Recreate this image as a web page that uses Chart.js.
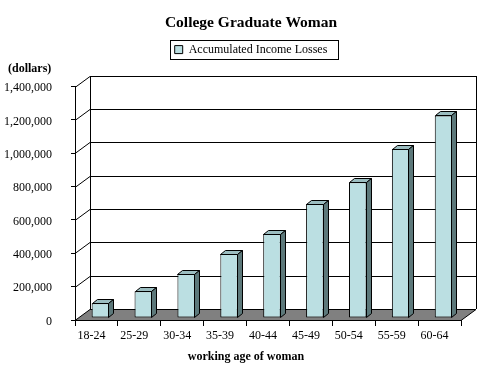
<!DOCTYPE html>
<html>
<head>
<meta charset="utf-8">
<title>College Graduate Woman</title>
<script src="https://cdn.jsdelivr.net/npm/chart.js@4.4.1/dist/chart.umd.min.js"></script>
<style>
	html, body { margin: 0; padding: 0; background: #ffffff; }
	#wrap { width: 484px; height: 371px; }
</style>
</head>
<body>
<div id="wrap"><canvas id="lossChart" width="484" height="371"></canvas></div>
<script>
const ageGroups = ["18-24", "25-29", "30-34", "35-39", "40-44", "45-49", "50-54", "55-59", "60-64"];
const incomeLosses = [88000, 160000, 265000, 385000, 505000, 685000, 815000, 1015000, 1215000];
const yTicks = [0, 200000, 400000, 600000, 800000, 1000000, 1200000, 1400000];
const seriesLabel = "Accumulated Income Losses";
const chartTitle = "College Graduate Woman";
const yUnitLabel = "(dollars)";
const xAxisLabel = "working age of woman";

const fontFamily = "'Liberation Serif', 'Times New Roman', serif";
const frontColor = "#BBDFE2";
const topColor = "#9BBDC0";
const sideColor = "#5C787A";
const floorColor = "#808080";

// 3D offsets of the back wall and of each column
const wallDepth = { x: 15, y: -11 };
const barShift = { x: 4, y: -2 };
const barDepth = { x: 5, y: -4 };
// title, legend and axis caption sit a little right of the canvas centre
const headerShift = 9;
const captionShift = 4;

/**
 * Draw floor, side wall and back wall with their grid lines
 */
const wallsPlugin = {
	id: "walls",
	beforeLayout(chart) {
		// keep room under the legend for the "(dollars)" label
		const legend = chart.legend;
		if (legend && !legend.heightPatched) {
			const fit = legend.fit;
			legend.fit = function () {
				fit.call(this);
				this.height = 46;
			};
			legend.heightPatched = true;
		}
	},
	afterLayout(chart) {
		chart.boxes.forEach((box) => {
			if (box === chart.titleBlock || box === chart.legend) {
				box.left += headerShift;
				box.right += headerShift;
			} else if (box.fullSize && box.position === "bottom") {
				// the subtitle used as caption of the category axis
				box.left += captionShift;
				box.right += captionShift;
			}
		});
	},
	beforeDatasetsDraw(chart) {
		const { ctx, chartArea: a, scales } = chart;
		const dx = wallDepth.x;
		const dy = wallDepth.y;
		ctx.save();
		ctx.lineWidth = 1;
		ctx.strokeStyle = "#000";

		// floor
		ctx.fillStyle = floorColor;
		ctx.beginPath();
		ctx.moveTo(a.left, a.bottom + 0.5);
		ctx.lineTo(a.right, a.bottom + 0.5);
		ctx.lineTo(a.right + dx, a.bottom + dy + 0.5);
		ctx.lineTo(a.left + dx, a.bottom + dy + 0.5);
		ctx.closePath();
		ctx.fill();
		ctx.stroke();

		// grid lines on the side and back walls
		scales.y.ticks.forEach((t) => {
			if (t.value === 0) return;
			const py = Math.round(scales.y.getPixelForValue(t.value)) + 0.5;
			ctx.beginPath();
			ctx.moveTo(a.left, py);
			ctx.lineTo(a.left + dx, py + dy);
			ctx.lineTo(a.right + dx, py + dy);
			ctx.stroke();
		});

		// back wall edges
		const top = Math.round(a.top) + dy;
		const bottom = Math.round(a.bottom) + dy;
		ctx.beginPath();
		ctx.moveTo(a.left + dx + 0.5, top);
		ctx.lineTo(a.left + dx + 0.5, bottom);
		ctx.moveTo(a.right + dx + 0.5, top);
		ctx.lineTo(a.right + dx + 0.5, bottom);
		ctx.stroke();
		ctx.restore();
	},
	beforeDatasetDraw(chart) {
		chart.ctx.save();
		chart.ctx.translate(barShift.x, barShift.y);
	},
	afterDatasetDraw(chart) {
		chart.ctx.restore();
	},
	afterDatasetsDraw(chart) {
		const ctx = chart.ctx;
		const meta = chart.getDatasetMeta(0);
		ctx.save();
		ctx.translate(barShift.x, barShift.y);
		ctx.lineWidth = 1;
		ctx.strokeStyle = "#000";
		meta.data.forEach((bar) => {
			const { x, y, base, width } = bar.getProps(["x", "y", "base", "width"], true);
			const l = Math.round(x - width / 2) + 0.5;
			const r = Math.round(x + width / 2) - 0.5;
			const t = Math.round(y) + 0.5;
			const b = Math.round(base) - 0.5;

			// top face
			ctx.fillStyle = topColor;
			ctx.beginPath();
			ctx.moveTo(l, t);
			ctx.lineTo(l + barDepth.x, t + barDepth.y);
			ctx.lineTo(r + barDepth.x, t + barDepth.y);
			ctx.lineTo(r, t);
			ctx.closePath();
			ctx.fill();
			ctx.stroke();

			// side face
			ctx.fillStyle = sideColor;
			ctx.beginPath();
			ctx.moveTo(r, t);
			ctx.lineTo(r + barDepth.x, t + barDepth.y);
			ctx.lineTo(r + barDepth.x, b + barDepth.y);
			ctx.lineTo(r, b);
			ctx.closePath();
			ctx.fill();
			ctx.stroke();
		});
		ctx.restore();
	},
	afterDraw(chart) {
		const ctx = chart.ctx;
		ctx.save();

		// frame round the legend
		const hb = chart.legend.legendHitBoxes[0];
		if (hb) {
			ctx.lineWidth = 1;
			ctx.strokeStyle = "#000";
			ctx.strokeRect(
				Math.round(hb.left - 5) + 0.5,
				Math.round(hb.top - 4) + 0.5,
				Math.round(hb.width + 15),
				Math.round(hb.height + 7)
			);
		}

		// unit label above the value axis
		ctx.fillStyle = "#000";
		ctx.font = "bold 12px " + fontFamily;
		ctx.textAlign = "left";
		ctx.textBaseline = "middle";
		ctx.fillText(yUnitLabel, 8, 69);
		ctx.restore();
	},
};

function drawLossChart() {
	const canvas = document.getElementById("lossChart");
	const config = {
		type: "bar",
		data: {
			labels: ageGroups,
			datasets: [
				{
					label: seriesLabel,
					data: incomeLosses,
					backgroundColor: frontColor,
					borderColor: "#000",
					borderWidth: 1,
					borderSkipped: false,
					categoryPercentage: 1,
					barPercentage: 0.41,
				},
			],
		},
		options: {
			responsive: false,
			animation: false,
			devicePixelRatio: 1,
			layout: {
				padding: { top: 0, left: 0, right: 0, bottom: 0 },
			},
			plugins: {
				title: {
					display: true,
					text: chartTitle,
					color: "#000",
					font: { family: fontFamily, size: 15.5, weight: "bold" },
					padding: { top: 14, bottom: 8 },
				},
				subtitle: {
					display: true,
					position: "bottom",
					text: xAxisLabel,
					color: "#000",
					font: { family: fontFamily, size: 12, weight: "bold" },
					padding: { top: 4, bottom: 7 },
				},
				legend: {
					display: true,
					position: "top",
					labels: {
						color: "#000",
						boxWidth: 8,
						boxHeight: 8,
						padding: 3,
						font: { family: fontFamily, size: 12 },
					},
				},
				tooltip: { enabled: false },
			},
			scales: {
				x: {
					grid: {
						display: true,
						drawOnChartArea: false,
						offset: true,
						tickLength: 6,
						color: "#000",
					},
					border: { display: false },
					ticks: {
						color: "#000",
						padding: 3,
						labelOffset: -5,
						maxRotation: 0,
						font: { family: fontFamily, size: 12 },
					},
					afterFit: (scale) => {
						scale.height = 25.6;
					},
				},
				y: {
					min: 0,
					max: 1400000,
					grid: {
						display: true,
						drawOnChartArea: false,
						tickLength: 4,
						color: "#000",
					},
					border: { display: true, color: "#000" },
					afterBuildTicks: (axis) => {
						axis.ticks = yTicks.map((v) => ({ value: v }));
					},
					ticks: {
						color: "#000",
						padding: 19,
						labelOffset: 1.5,
						font: { family: fontFamily, size: 12 },
						callback: (value) => Number(value).toLocaleString("en-US"),
					},
					afterFit: (scale) => {
						scale.width = 75;
					},
				},
				// empty axis on the right, leaves room for the back wall depth
				yRight: {
					position: "right",
					min: 0,
					max: 1400000,
					grid: { display: false },
					border: { display: false },
					ticks: { display: false },
					afterFit: (scale) => {
						scale.width = 23;
					},
				},
			},
		},
		plugins: [wallsPlugin],
	};

	if (window.lossChartObj) window.lossChartObj.destroy();
	window.lossChartObj = new Chart(canvas, config);
}

drawLossChart();
</script>
</body>
</html>
